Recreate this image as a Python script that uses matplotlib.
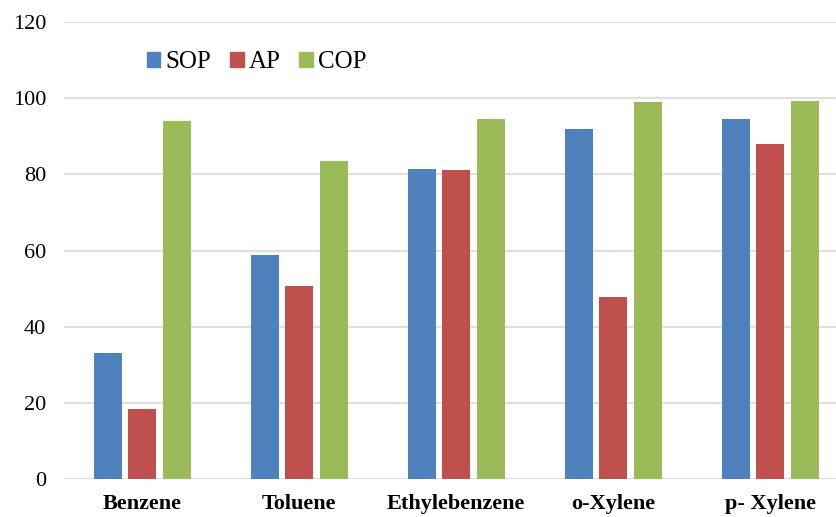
import numpy as np
from matplotlib import pyplot as plt
from matplotlib.patches import Patch

categories = ['Benzene', 'Toluene', 'Ethylebenzene', 'o-Xylene', 'p- Xylene']
sop = [33.1, 58.8, 81.4, 91.9, 94.5]
ap = [18.4, 50.7, 81.2, 47.8, 87.9]
cop = [94.0, 83.5, 94.7, 99.0, 99.2]
series = ['SOP', 'AP', 'COP']
colors = ['#4F81BD', '#C0504D', '#9BBB59']

plt.rcParams['font.family'] = ['Liberation Serif', 'DejaVu Serif']

fig = plt.figure(figsize=(8.37, 5.17), dpi=100)
ax = fig.add_axes([0.076, 0.0735, 0.938, 0.8835])

x = np.arange(len(categories))
w = 0.178
step = 0.22
for i, vals in enumerate([sop, ap, cop]):
	ax.bar(x + (i - 1) * step, vals, w, color=colors[i], zorder=3)

ax.set_xlim(-0.5, len(categories) - 0.5)
ax.set_ylim(0, 120)
ax.set_yticks(range(0, 121, 20))
ax.yaxis.grid(True, color='#D9D9D9', linewidth=1.2, zorder=0)
ax.set_axisbelow(True)
for s in ax.spines.values():
	s.set_visible(False)
ax.tick_params(axis='both', length=0)
ax.tick_params(axis='y', labelsize=16, pad=12.5)
ax.set_xticks(x)
ax.set_xticklabels(categories, fontsize=16, fontweight='bold')
ax.tick_params(axis='x', pad=11)

handles = [Patch(color=c, label=s) for c, s in zip(colors, series)]
ax.legend(handles=handles, loc='center left', bbox_to_anchor=(0.077, 0.912),
	ncol=3, frameon=False, fontsize=18, handlelength=0.55, handleheight=0.55,
	handletextpad=0.2, columnspacing=0.75)

plt.savefig('out.png', dpi=100)
